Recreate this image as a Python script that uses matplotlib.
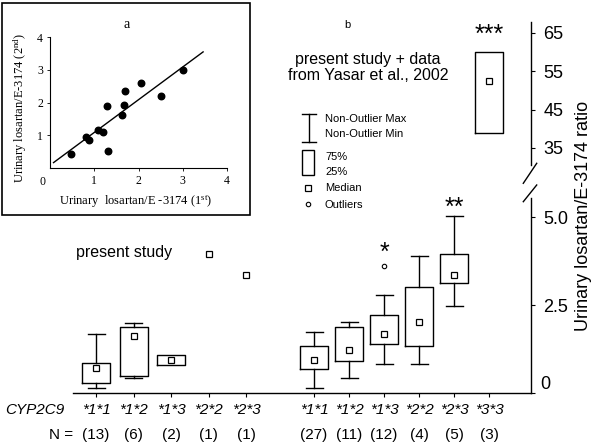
import matplotlib
matplotlib.use('Agg')
import matplotlib.pyplot as plt
from matplotlib.lines import Line2D
from matplotlib.patches import Rectangle
import matplotlib.transforms as mtransforms
import numpy as np

plt.rcParams['font.family'] = ['Liberation Sans', 'DejaVu Sans']
plt.rcParams['mathtext.fontset'] = 'custom'
plt.rcParams['mathtext.rm'] = 'Liberation Serif'
plt.rcParams['mathtext.it'] = 'Liberation Serif:italic'

# ---------------- data: panel a ----------------
a_first = [0.47, 0.81, 0.89, 1.09, 1.20, 1.28, 1.32, 1.62, 1.67, 1.69, 2.06, 2.50, 3.01]
a_second = [0.44, 0.95, 0.87, 1.15, 1.09, 1.88, 0.52, 1.63, 1.93, 2.34, 2.60, 2.21, 3.00]
fit_slope = 1.0
fit_intercept = 0.085
fit_range = [0.08, 3.46]

# ---------------- data: panel b ----------------
present_genotypes = ['*1*1', '*1*2', '*1*3', '*2*2', '*2*3']
present_n = [13, 6, 2, 1, 1]
present_min = [0.13, 0.42, np.nan, np.nan, np.nan]
present_q1 = [0.27, 0.49, 0.80, np.nan, np.nan]
present_med = [0.70, 1.63, 0.94, 3.94, 3.34]
present_q3 = [0.86, 1.88, 1.08, np.nan, np.nan]
present_max = [1.69, 2.00, np.nan, np.nan, np.nan]

combined_genotypes = ['*1*1', '*1*2', '*1*3', '*2*2', '*2*3', '*3*3']
combined_n = [27, 11, 12, 4, 5, 3]
combined_min = [0.15, 0.42, 0.81, 0.83, 2.48, np.nan]
combined_q1 = [0.68, 0.91, 1.39, 1.34, 3.13, 39.0]
combined_med = [0.94, 1.22, 1.69, 2.01, 3.36, 52.5]
combined_q3 = [1.34, 1.88, 2.22, 3.02, 3.94, 60.0]
combined_max = [1.72, 2.01, 2.78, 3.89, 5.03, np.nan]
combined_outliers = [[], [], [3.61], [], [], []]
significance = ['', '', '*', '', '**', '***']
significance_y = [np.nan, np.nan, 3.98, np.nan, 5.26, 64.5]

upper_ticks = [35, 45, 55, 65]
lower_ticks = [0, 2.5, 5.0]

# ---------------- layout helpers ----------------
W, H = 607, 443
fig = plt.figure(figsize=(W / 100, H / 100), dpi=100)


def fx(px):
    return px / W


def fy(py):
    return 1 - py / H


pos_present = [96 + 37.5 * i for i in range(len(present_genotypes))]
pos_combined = [314 + 35 * i for i in range(len(combined_genotypes))]
BOXW = 28
CAPW = 17

ax_lo = fig.add_axes([fx(73), fy(393), (531 - 73) / W, (393 - 198) / H])
ax_hi = fig.add_axes([fx(73), fy(165), (531 - 73) / W, (165 - 22) / H])
for ax in (ax_lo, ax_hi):
    ax.set_xlim(73, 531)
    ax.patch.set_alpha(0)
ax_lo.set_ylim(0, 5.54)
ax_hi.set_ylim(30.53, 67.87)

LW = 1.0
boxprops = dict(color='black', linewidth=LW)
lineprops = dict(color='black', linewidth=LW)


def draw_boxes(positions, mins, q1s, meds, q3s, maxs, outs=None):
    for i, p in enumerate(positions):
        med = meds[i]
        ax = ax_hi if med > 10 else ax_lo
        if not np.isnan(q1s[i]):
            has_wh = not np.isnan(mins[i])
            st = dict(med=med, q1=q1s[i], q3=q3s[i],
                      whislo=mins[i] if has_wh else q1s[i],
                      whishi=maxs[i] if has_wh else q3s[i],
                      fliers=np.array(outs[i] if outs else []))
            ax.bxp([st], positions=[p], widths=BOXW, showcaps=has_wh,
                   capwidths=CAPW, boxprops=boxprops, whiskerprops=lineprops,
                   capprops=lineprops, medianprops=dict(linewidth=0),
                   flierprops=dict(marker='o', markersize=3.2, markerfacecolor='white',
                                   markeredgecolor='black', markeredgewidth=0.8),
                   manage_ticks=False)
        ax.plot([p], [med], marker='s', markersize=4, markerfacecolor='white',
                markeredgecolor='black', markeredgewidth=0.9, zorder=5)


draw_boxes(pos_present, present_min, present_q1, present_med, present_q3, present_max)
draw_boxes(pos_combined, combined_min, combined_q1, combined_med, combined_q3, combined_max,
           combined_outliers)

for i, s in enumerate(significance):
    if s:
        y = significance_y[i]
        ax = ax_hi if y > 10 else ax_lo
        ax.text(pos_combined[i], y, s, ha='center', va='center', fontsize=18)

# spines / ticks lower
for sp in ('left', 'top'):
    ax_lo.spines[sp].set_visible(False)
ax_lo.spines['right'].set_linewidth(1.0)
ax_lo.spines['bottom'].set_linewidth(1.0)
ax_lo.yaxis.tick_right()
ax_lo.set_yticks(lower_ticks, ['', '2.5', '5.0'])
ax_lo.tick_params(axis='y', direction='out', length=3, width=0.8, labelsize=13, pad=6)
zero_tr = mtransforms.blended_transform_factory(ax_lo.transAxes, ax_lo.transData) + \
    mtransforms.ScaledTranslation(9 / 100, 0, fig.dpi_scale_trans)
ax_lo.text(1.0, 0, '0', transform=zero_tr, ha='left', va='bottom', fontsize=13)
ax_lo.set_xticks(pos_present + pos_combined, [''] * (len(pos_present) + len(pos_combined)))
ax_lo.tick_params(axis='x', direction='out', length=3, width=0.8)

# spines / ticks upper
for sp in ('left', 'top', 'bottom'):
    ax_hi.spines[sp].set_visible(False)
ax_hi.spines['right'].set_linewidth(1.0)
ax_hi.yaxis.tick_right()
ax_hi.set_yticks(upper_ticks, [str(v) for v in upper_ticks])
ax_hi.tick_params(axis='y', direction='out', length=3, width=0.8, labelsize=13, pad=6)
ax_hi.set_xticks([])

# break marks
for (x0, y0, x1, y1) in [(523.3, 183.3, 536.7, 163.3), (523.3, 201.7, 536.7, 185.0)]:
    fig.add_artist(Line2D([fx(x0), fx(x1)], [fy(y0), fy(y1)], color='black', linewidth=1.0))

# x labels
tr = mtransforms.blended_transform_factory(ax_lo.transData, fig.transFigure)
for p, g, n in zip(pos_present, present_genotypes, present_n):
    ax_lo.text(p, fy(410), g, transform=tr, ha='center', va='center', fontsize=11, style='italic')
    ax_lo.text(p, fy(435), f'({n})', transform=tr, ha='center', va='center', fontsize=11)
for p, g, n in zip(pos_combined, combined_genotypes, combined_n):
    ax_lo.text(p, fy(410), g, transform=tr, ha='center', va='center', fontsize=11, style='italic')
    ax_lo.text(p, fy(435), f'({n})', transform=tr, ha='center', va='center', fontsize=11)
fig.text(fx(5), fy(410), 'CYP2C9', ha='left', va='center', fontsize=11, style='italic')
fig.text(fx(73), fy(435), 'N =', ha='right', va='center', fontsize=11)

# y label
fig.text(fx(583), fy(216), 'Urinary losartan/E-3174 ratio', rotation=90, ha='center', va='center',
         fontsize=13)

# annotations
fig.text(fx(124), fy(252), 'present study', ha='center', va='center', fontsize=11.5)
fig.text(fx(368), fy(67.5), 'present study + data\nfrom Yasar et al., 2002', ha='center', va='center',
         fontsize=11.5, linespacing=1.15)
fig.text(fx(347), fy(25), 'b', ha='center', va='center', fontsize=8)

# legend
fig.add_artist(Line2D([fx(309), fx(309)], [fy(114), fy(142)], color='black', lw=1.0))
for yy in (114, 142):
    fig.add_artist(Line2D([fx(302), fx(316)], [fy(yy), fy(yy)], color='black', lw=1.0))
fig.add_artist(Rectangle((fx(302), fy(175)), 12 / W, 25 / H, transform=fig.transFigure,
                         fill=False, edgecolor='black', lw=1.0))
fig.add_artist(Line2D([fx(308.3)], [fy(187.5)], marker='s', markersize=4, markerfacecolor='white',
                      markeredgecolor='black', markeredgewidth=0.9))
fig.add_artist(Line2D([fx(308.3)], [fy(204)], marker='o', markersize=3.2, markerfacecolor='white',
                      markeredgecolor='black', markeredgewidth=0.8))
for txt, yy in [('Non-Outlier Max', 119), ('Non-Outlier Min', 134), ('75%', 157), ('25%', 172),
                ('Median', 188), ('Outliers', 205)]:
    fig.text(fx(325), fy(yy), txt, ha='left', va='center', fontsize=8)

# ---------------- inset panel a ----------------
fig.add_artist(Rectangle((fx(2), fy(215)), 248 / W, 212 / H, transform=fig.transFigure,
                         fill=False, edgecolor='black', lw=1.2))
ax_a = fig.add_axes([fx(50), fy(168), 177 / W, 131 / H])
ax_a.set_xlim(0, 4)
ax_a.set_ylim(0, 4)
for sp in ('top', 'right'):
    ax_a.spines[sp].set_visible(False)
for sp in ('left', 'bottom'):
    ax_a.spines[sp].set_linewidth(0.8)
ax_a.scatter(a_first, a_second, s=22, color='black', zorder=3)
fx_line = np.array(fit_range)
ax_a.plot(fx_line, fit_slope * fx_line + fit_intercept, color='black', lw=1.0)
serif = ['Liberation Serif', 'DejaVu Serif']
ax_a.set_xticks([1, 2, 3, 4])
ax_a.set_yticks([1, 2, 3, 4])
ax_a.tick_params(direction='out', length=2, width=0.6, labelsize=8.5, pad=3)
for lab in ax_a.get_xticklabels() + ax_a.get_yticklabels():
    lab.set_family(serif)
fig.text(fx(42), fy(182), '0', ha='center', va='center', fontsize=8.5, family=serif)
fig.text(fx(136), fy(202), r'Urinary  losartan/E -3174 (1$^{\rm st}$)', ha='center', va='center',
         fontsize=9, family=serif)
fig.text(fx(20), fy(108), r'Urinary losartan/E-3174 (2$^{\rm nd}$)', rotation=90, ha='center',
         va='center', fontsize=9, family=serif)
fig.text(fx(127), fy(25), 'a', ha='center', va='center', fontsize=10, family=serif)

fig.savefig('out.png', dpi=100)
